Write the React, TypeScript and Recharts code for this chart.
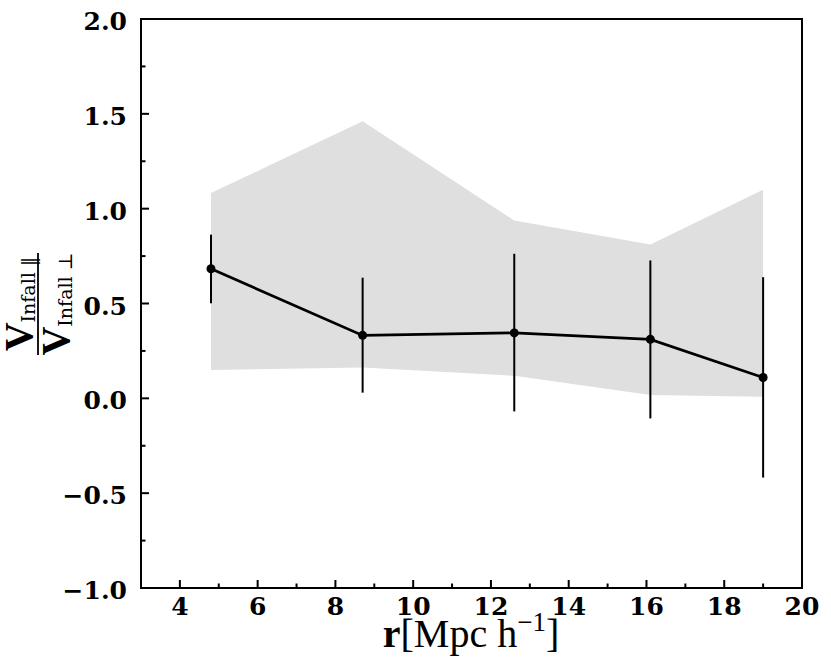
import React from "react";
import { ComposedChart, Area, Line, ErrorBar, XAxis, YAxis, ReferenceArea, Label } from "recharts";

// radial distance bins, r [Mpc/h]
const radius = [4.8, 8.7, 12.6, 16.1, 19.0];
// ratio of parallel to perpendicular infall velocity
const ratio = [0.683, 0.332, 0.345, 0.311, 0.11];
const errUpper = [0.863, 0.636, 0.762, 0.727, 0.639];
const errLower = [0.501, 0.03, -0.069, -0.106, -0.418];
// shaded scatter band
const bandUpper = [1.082, 1.461, 0.938, 0.811, 1.1];
const bandLower = [0.15, 0.163, 0.119, 0.017, 0.008];

const xTicks = [4, 5, 6, 7, 8, 9, 10, 11, 12, 13, 14, 15, 16, 17, 18, 19, 20];
const yTicks = [-1, -0.75, -0.5, -0.25, 0, 0.25, 0.5, 0.75, 1, 1.25, 1.5, 1.75, 2];

const data = radius.map((r, i) => ({
  r,
  ratio: ratio[i],
  err: [ratio[i] - errLower[i], errUpper[i] - ratio[i]],
  band: [bandLower[i], bandUpper[i]],
}));

const TICK_FONT = "'DejaVu Serif', serif";
const LABEL_FONT = "'Liberation Serif', 'DejaVu Serif', serif";
const SUB_FONT = "'DejaVu Serif', serif";

const fmtY = (v: number) => {
  const s = Math.abs(v).toFixed(1);
  return v < 0 ? "\u2212" + s : s;
};

function XTick(props: any) {
  const { x, y, payload } = props;
  const v = payload.value;
  const major = v % 2 === 0;
  return (
    <g>
      <line x1={x} x2={x} y1={y} y2={y - (major ? 8 : 4.5)} stroke="#000" strokeWidth={2} />
      {major && (
        <text x={x} y={y + 27} textAnchor="middle" fontFamily={TICK_FONT} fontWeight="bold" fontSize={25} fill="#000">
          {v}
        </text>
      )}
    </g>
  );
}

function YTick(props: any) {
  const { x, y, payload } = props;
  const v = payload.value;
  const major = Math.abs(v * 2 - Math.round(v * 2)) < 1e-6;
  return (
    <g>
      <line x1={x} x2={x + (major ? 8 : 4.5)} y1={y} y2={y} stroke="#000" strokeWidth={2} />
      {major && (
        <text x={x - 14} y={y + 11} textAnchor="end" fontFamily={TICK_FONT} fontWeight="bold" fontSize={25} fill="#000">
          {fmtY(v)}
        </text>
      )}
    </g>
  );
}

// stacked fraction V_Infall|| / V_Infall_perp, rotated to read bottom-up
function YLabel() {
  return (
    <g transform="translate(38, 304) rotate(-90)" fill="#000">
      <text x={0} y={-6} textAnchor="middle">
        <tspan fontFamily={LABEL_FONT} fontSize={40} fontWeight="bold">V</tspan>
        <tspan fontFamily={SUB_FONT} fontSize={19} dy={3}>Infall {"\u2016"}</tspan>
      </text>
      <line x1={-51} x2={51} y1={0} y2={0} stroke="#000" strokeWidth={1.8} />
      <text x={0} y={31} textAnchor="middle">
        <tspan fontFamily={LABEL_FONT} fontSize={40} fontWeight="bold">V</tspan>
        <tspan fontFamily={SUB_FONT} fontSize={19} dy={3}>Infall {"\u22A5"}</tspan>
      </text>
    </g>
  );
}

function XLabel() {
  return (
    <text x={471} y={647} textAnchor="middle" fontFamily={LABEL_FONT} fontSize={40} fill="#000">
      <tspan fontWeight="bold">r</tspan>
      <tspan>[Mpc h</tspan>
      <tspan fontSize={27} dy={-16}>{"\u22121"}</tspan>
      <tspan dy={16}>]</tspan>
    </text>
  );
}

export default function App() {
  return (
    <div style={{ position: "absolute", left: 0, top: 0, width: 831, height: 665, background: "#fff" }}>
      <ComposedChart width={831} height={665} data={data} margin={{ top: 19, right: 29, left: 0, bottom: 0 }}>
        <XAxis
          dataKey="r"
          type="number"
          domain={[3, 20]}
          ticks={xTicks}
          interval={0}
          axisLine={false}
          tickLine={false}
          tickSize={0}
          tickMargin={0}
          height={77}
          tick={<XTick />}
        >
          <Label content={() => <XLabel />} />
        </XAxis>
        <YAxis
          type="number"
          domain={[-1, 2]}
          ticks={yTicks}
          interval={0}
          axisLine={false}
          tickLine={false}
          tickSize={0}
          tickMargin={0}
          width={141}
          tick={<YTick />}
        >
          <Label content={() => <YLabel />} />
        </YAxis>
        <Area
          dataKey="band"
          type="linear"
          stroke="none"
          fill="#dfdfdf"
          fillOpacity={1}
          isAnimationActive={false}
        />
        <Line
          dataKey="ratio"
          type="linear"
          stroke="#000"
          strokeWidth={2.7}
          dot={{ r: 4.5, fill: "#000", stroke: "#000", strokeWidth: 0 }}
          activeDot={false}
          isAnimationActive={false}
        >
          <ErrorBar dataKey="err" direction="y" width={0} stroke="#000" strokeWidth={2} isAnimationActive={false} />
        </Line>
        <ReferenceArea x1={3} x2={20} y1={-1} y2={2} fill="none" fillOpacity={0} stroke="#000" strokeWidth={2} />
      </ComposedChart>
    </div>
  );
}
